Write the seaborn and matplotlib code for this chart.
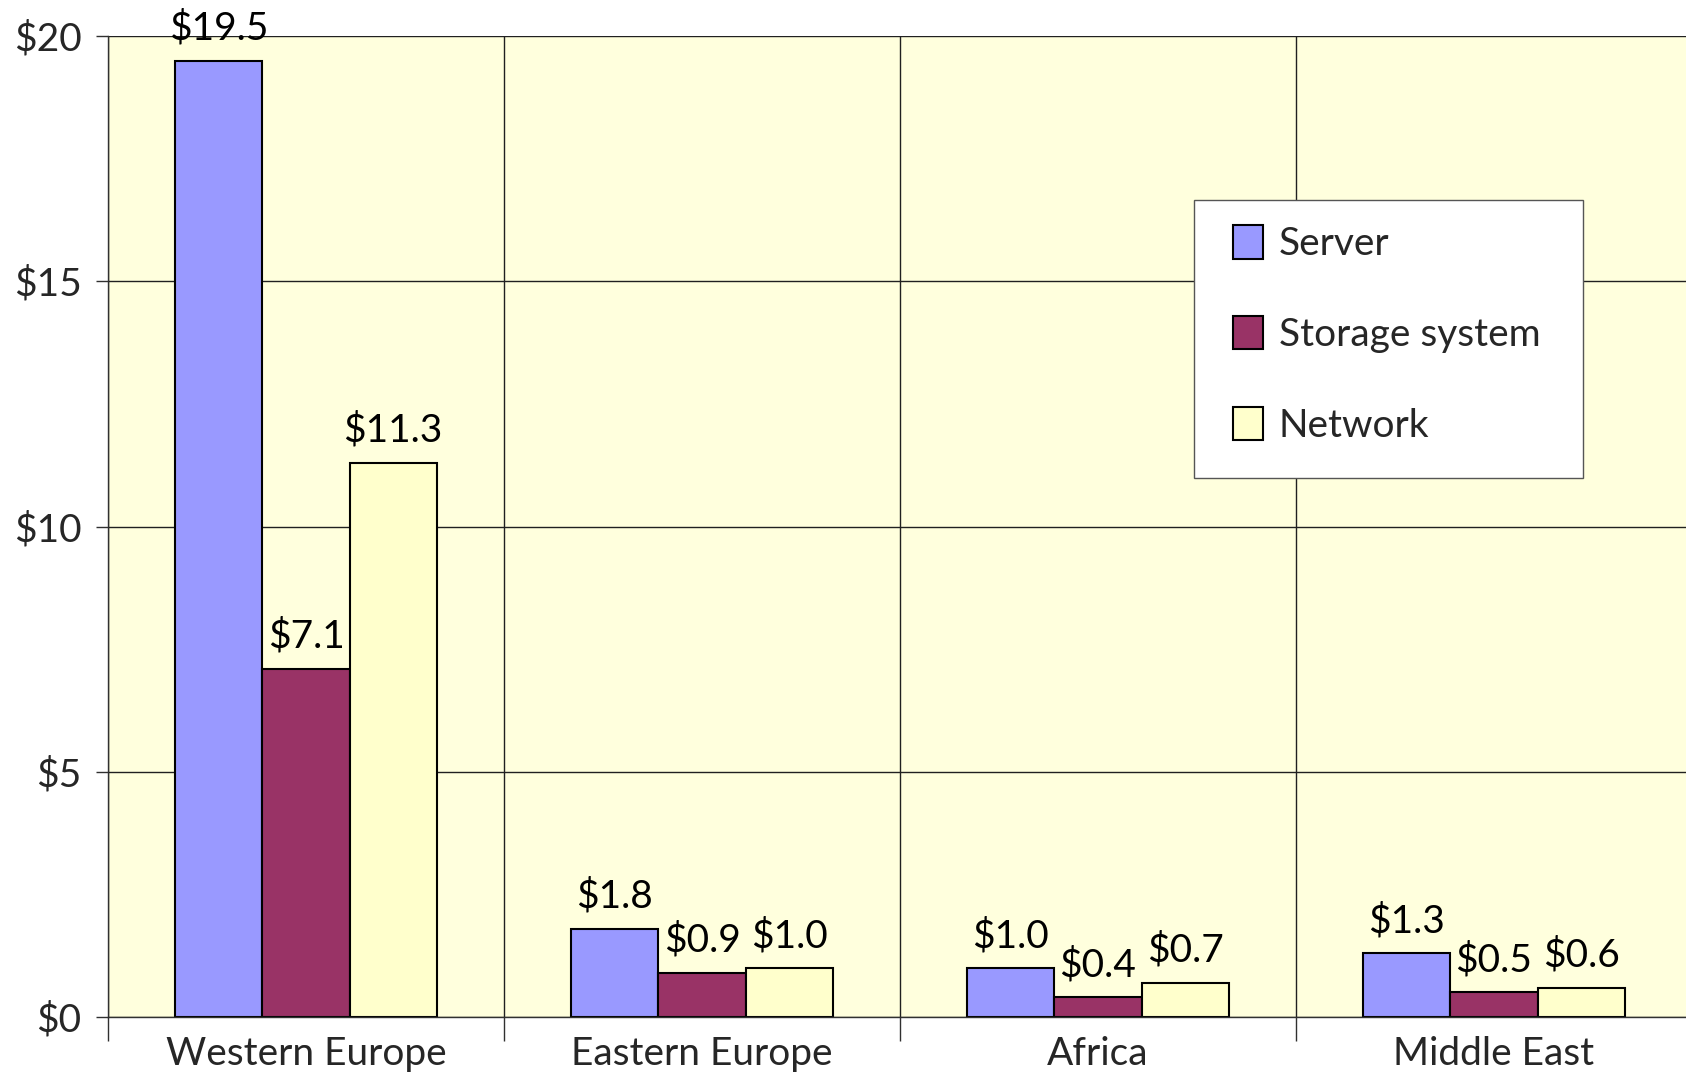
import pandas as pd
import numpy as np
import matplotlib
matplotlib.use("Agg")
import matplotlib.pyplot as plt
import matplotlib.ticker as mticker
from matplotlib.patches import Rectangle
import seaborn as sns

regions = ["Western Europe", "Eastern Europe", "Africa", "Middle East"]
components = ["Server", "Storage system", "Network"]
server = [19.5, 1.8, 1.0, 1.3]
storage = [7.1, 0.9, 0.4, 0.5]
network = [11.3, 1.0, 0.7, 0.6]
yticks = [0, 5, 10, 15, 20]
colors = ["#9999FF", "#993366", "#FFFFCC"]

sns.set_theme(style="ticks")
plt.rcParams["font.family"] = ["Lato", "DejaVu Sans"]
FS = 28
W, H = 1686, 1076

df = pd.DataFrame({
    "region": regions * 3,
    "component": [c for c in components for _ in regions],
    "value": server + storage + network,
})

fig = plt.figure(figsize=(W / 100, H / 100), dpi=100)
ax = fig.add_axes([108 / W, 59 / H, 1584 / W, 981 / H])
ax.set_facecolor("#FFFFDD")

sns.barplot(data=df, x="region", y="value", hue="component", order=regions,
            hue_order=components, palette=colors, width=0.66, gap=0,
            edgecolor="black", linewidth=1.5, saturation=1, ax=ax)

for cont in ax.containers:
    ax.bar_label(cont, labels=["$%.1f" % v for v in cont.datavalues],
                 padding=10, fontsize=FS, color="black")

ax.set_xlim(-0.5, 3.5)
ax.set_ylim(0, 20)
ax.set_yticks(yticks)
ax.set_yticklabels(["$%d" % t for t in yticks], fontsize=FS)
ax.tick_params(axis="y", length=9, width=1, color="#303030", pad=10)
ax.tick_params(axis="x", which="major", length=0, pad=14, labelsize=FS)
ax.xaxis.set_minor_locator(mticker.FixedLocator([-0.5, 0.5, 1.5, 2.5, 3.5]))
ax.tick_params(axis="x", which="minor", length=17, width=1, color="#303030")
ax.grid(axis="y", which="major", color="#202020", linewidth=1)
ax.grid(axis="x", which="minor", color="#202020", linewidth=1)
ax.set_axisbelow(True)
ax.set_xlabel("")
ax.set_ylabel("")
for s in ["left", "bottom"]:
    ax.spines[s].set_color("#303030")
    ax.spines[s].set_linewidth(1)
ax.spines["right"].set_visible(False)
ax.spines["top"].set_visible(False)

# legend box drawn separately so the padding can differ horizontally / vertically
box = Rectangle((1194 / W, 1 - 478 / H), 389 / W, 278 / H, transform=fig.transFigure,
                facecolor="white", edgecolor="#555555", linewidth=1, zorder=4.5,
                clip_on=False)
ax.add_patch(box)

leg = ax.legend(loc="upper left", bbox_to_anchor=(1233 / W, 1 - 225 / H),
                bbox_transform=fig.transFigure, borderaxespad=0, borderpad=0,
                frameon=False, fontsize=FS, handlelength=0.78,
                handleheight=0.95, handletextpad=0.4, labelspacing=1.38,
                title=None)
leg.set_zorder(5)
for h in leg.legend_handles:
    h.set_edgecolor("black")
    h.set_linewidth(1.5)

fig.savefig("out.png", dpi=100)
